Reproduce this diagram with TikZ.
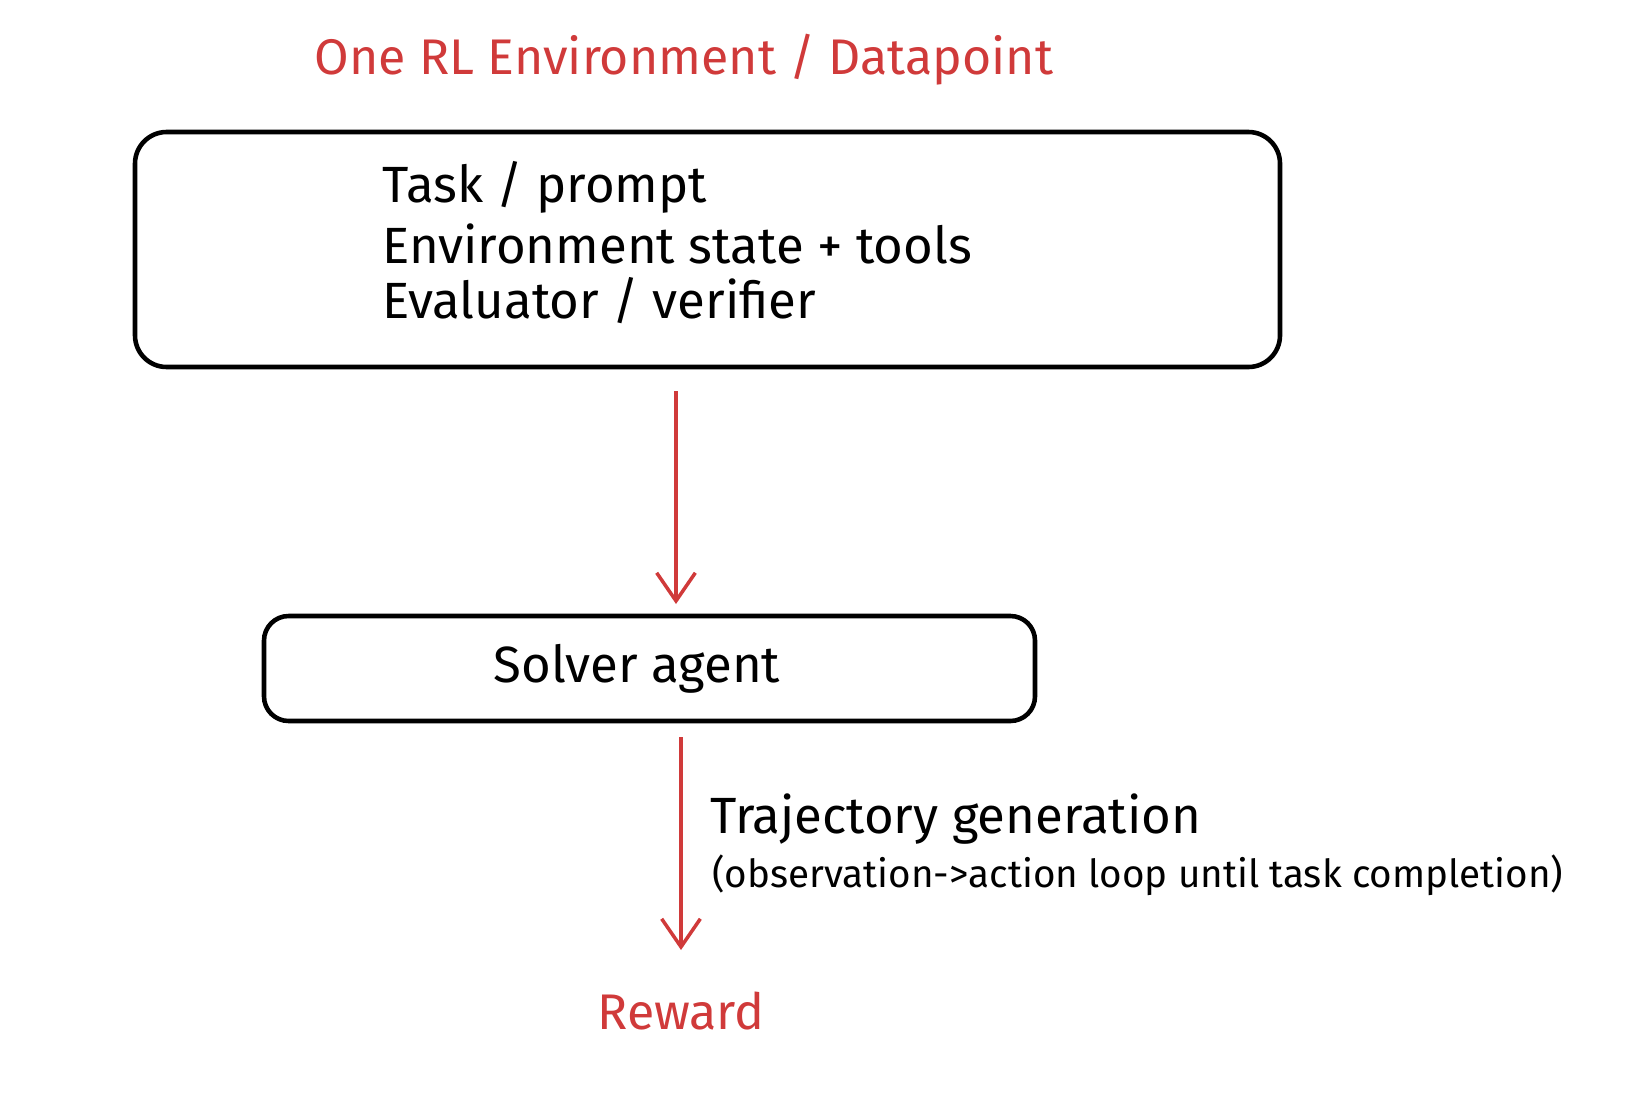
\documentclass[tikz,border=0pt]{standalone}
\usepackage{fontspec}
\setmainfont{Fira Sans}
\usetikzlibrary{arrows.meta}
\definecolor{rred}{HTML}{D03A3A}
\begin{document}
\begin{tikzpicture}[x=0.02cm,y=-0.02cm,
  box/.style={draw=black,line width=2.6pt,rounded corners=18pt},
  red/.style={text=rred,font=\fontsize{28.5}{33}\selectfont},
  body/.style={font=\fontsize{29}{34}\selectfont,align=left},
  arr/.style={draw=rred,line width=2.4pt,-{Straight Barb[length=16pt,width=22pt,line width=2pt]}}]
\useasboundingbox (0,0) rectangle (1648,1112);
\node[red] (title) at (684,60) {One RL Environment / Datapoint};
\draw[box] (135,132) rectangle (1280,367);
\coordinate (envtop) at (676,391);
\node[body,anchor=west] (t1) at (376,187) {Task / prompt};
\node[body,anchor=west] (t2) at (376,244) {Environment state + tools};
\node[body,anchor=west] (t3) at (376,301) {Evaluator / verifier};
\draw[box,rounded corners=14pt] (264,616) rectangle (1035,721);
\node[body] (solver) at (637,669) {Solver agent};
\coordinate (a1) at (676,604);
\draw[arr] (envtop) -- (a1);
\coordinate (s0) at (681,737);
\coordinate (s1) at (681,950);
\draw[arr] (s0) -- (s1);
\node[body,anchor=west] (l1) at (704,819) {Trajectory generation};
\node[anchor=west,font=\fontsize{22}{26}\selectfont] (l2) at (706,875) {(observation->action loop until task completion)};
\node[red] (reward) at (681,1011) {Reward};
\end{tikzpicture}
\end{document}
